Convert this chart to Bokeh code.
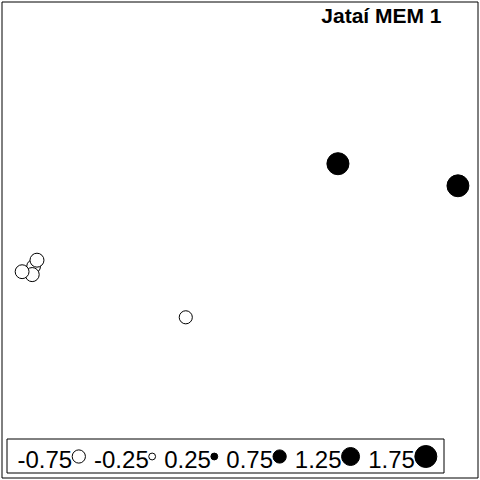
from bokeh.plotting import figure
from bokeh.models import Range1d
from bokeh.core.properties import value
from bokeh.embed import file_html
from bokeh.resources import INLINE

# ---- data (map coordinates, arbitrary units) ----
site_x = [6.9, 6.6, 4.5, 7.6, 38.6, 70.3, 95.3]
site_y = [44.6, 42.9, 43.5, 45.9, 34.0, 66.0, 61.4]
mem1 = [-0.80, -0.83, -0.81, -0.82, -0.74, 1.76, 1.74]
legend_values = [-0.75, -0.25, 0.25, 0.75, 1.25, 1.75]
legend_labels = ["-0.75", "-0.25", "0.25", "0.75", "1.25", "1.75"]
title = "Jataí MEM 1"

W = H = 480
DMAX = 22.0
VMAX = 1.75


def diam(v):
    return DMAX * (abs(v) / VMAX) ** 0.6


p = figure(width=W, height=H, output_backend="svg", toolbar_location=None,
           x_range=Range1d(0, 100), y_range=Range1d(0, 100), min_border=0,
           x_axis_type=None, y_axis_type=None)
p.grid.visible = False
p.outline_line_color = None
p.background_fill_color = "white"
p.border_fill_color = "white"

# pixel-space ranges for frame, legend, title
p.extra_x_ranges = {"px": Range1d(0, W)}
p.extra_y_ranges = {"py": Range1d(H, 0)}

# outer frame
p.quad(left=[1.5], right=[477.5], top=[1.5], bottom=[477.5],
       fill_color=None, line_color="black", line_width=1,
       x_range_name="px", y_range_name="py")

# points
sizes = [diam(v) for v in mem1]
fills = ["white" if v < 0 else "black" for v in mem1]
p.scatter(x=site_x, y=site_y, size=sizes, fill_color=fills,
          line_color="black", line_width=1, marker="circle")

# legend
FS = 24
cw = {"-": 0.333, ".": 0.278}
def tw(s):
    return sum(cw.get(c, 0.556) for c in s) * FS

p.quad(left=[6.5], right=[443.5], top=[438.5], bottom=[472.5],
       fill_color="white", line_color="black", line_width=1,
       x_range_name="px", y_range_name="py")
tx, cx, cs, cf = [], [], [], []
x = 17
for v, lab in zip(legend_values, legend_labels):
    d = diam(v)
    tx.append(x)
    c = x + tw(lab) + d / 2
    cx.append(c)
    cs.append(d)
    cf.append("white" if v < 0 else "black")
    x = c + d / 2 + 8.6
p.text(x=tx, y=[459] * len(tx), text=legend_labels, text_font=value("Liberation Sans"),
       text_font_size=f"{FS}px", text_baseline="middle", text_align="left",
       text_color="black", x_range_name="px", y_range_name="py")
p.scatter(x=cx, y=[456] * len(cx), size=cs, fill_color=cf, line_color="black",
          line_width=1, marker="circle", x_range_name="px", y_range_name="py")

# title
p.text(x=[441], y=[15], text=[title], text_font=value("Liberation Sans"),
       text_font_size="21px", text_font_style="bold", text_baseline="middle",
       text_align="right", text_color="black", x_range_name="px", y_range_name="py")

open("out.html", "w").write(file_html(p, INLINE))
